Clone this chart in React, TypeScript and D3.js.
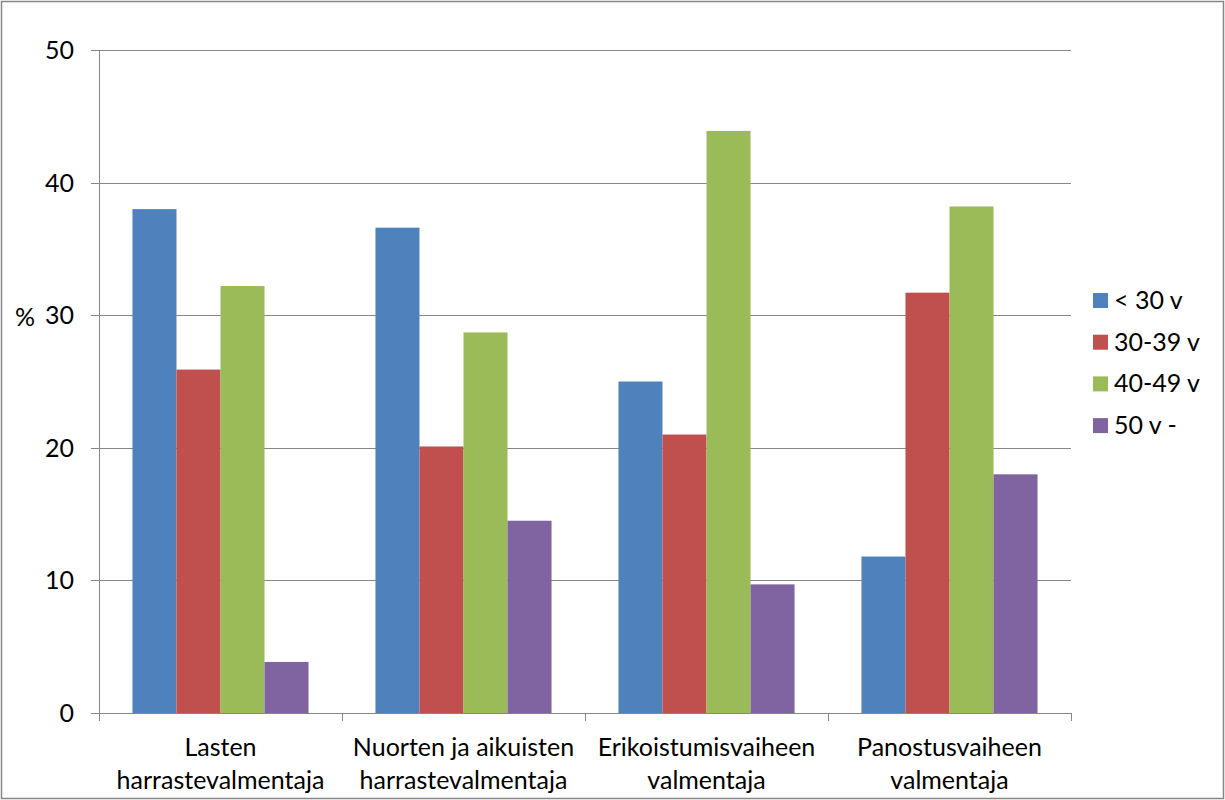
import React from "react";
import * as d3 from "d3";

const categories = [
  ["Lasten", "harrastevalmentaja"],
  ["Nuorten ja aikuisten", "harrastevalmentaja"],
  ["Erikoistumisvaiheen", "valmentaja"],
  ["Panostusvaiheen", "valmentaja"],
];
const seriesNames = ["< 30 v", "30-39 v", "40-49 v", "50 v -"];
const seriesColors = ["#4F81BD", "#C0504D", "#9BBB59", "#8064A2"];
const s1 = [38.0, 36.6, 25.0, 11.8];
const s2 = [25.9, 20.1, 21.0, 31.7];
const s3 = [32.2, 28.7, 43.9, 38.2];
const s4 = [3.85, 14.5, 9.7, 18.0];
const yTicks = [0, 10, 20, 30, 40, 50];

const W = 1225, H = 800;
const left = 99, right = 1071, top = 50, bottom = 713;
const font = "Lato, 'Open Sans', sans-serif";
const fs = 25;

export default function App() {
  const series = [s1, s2, s3, s4];
  const y = d3.scaleLinear().domain([0, 50]).range([bottom, top]);
  const x0 = d3.scaleBand<number>().domain(d3.range(categories.length)).range([left, right]).paddingInner(0).paddingOuter(0);
  const x1 = d3.scaleBand<number>().domain(d3.range(series.length)).range([0, x0.bandwidth()]).paddingOuter(0.76).paddingInner(0);
  return (
    <svg width={W} height={H} style={{ position: "absolute", left: 0, top: 0 }}>
      <rect x={0} y={0} width={W} height={H} fill="#fff" />
      <rect x={1.5} y={1.5} width={W - 3} height={H - 3} fill="none" stroke="#868686" strokeWidth={1.5} />
      {yTicks.map((t) => (
        <g key={t}>
          <line x1={left - 8} x2={right} y1={Math.round(y(t)) + 0.5} y2={Math.round(y(t)) + 0.5} stroke="#868686" />
          <text x={left - 25} y={y(t) + 9} textAnchor="end" fontFamily={font} fontSize={fs} fill="#000">{t}</text>
        </g>
      ))}
      <line x1={left + 0.5} x2={left + 0.5} y1={top} y2={bottom} stroke="#868686" />
      {categories.map((c, i) => (
        <g key={i}>
          {series.map((s, j) => (
            <rect key={j} x={x0(i)! + x1(j)!} y={y(s[i])} width={x1.bandwidth()} height={bottom - y(s[i])} fill={seriesColors[j]} />
          ))}
          <text textAnchor="middle" fontFamily={font} fontSize={fs} fill="#000">
            <tspan x={x0(i)! + x0.bandwidth() / 2} y={756}>{c[0]}</tspan>
            <tspan x={x0(i)! + x0.bandwidth() / 2} y={789}>{c[1]}</tspan>
          </text>
        </g>
      ))}
      {d3.range(categories.length + 1).map((i) => {
        const xx = Math.round(left + i * x0.bandwidth()) + 0.5;
        return <line key={i} x1={xx} x2={xx} y1={bottom} y2={bottom + 8} stroke="#868686" />;
      })}
      <text x={15} y={326} fontFamily={font} fontSize={fs} fill="#000">%</text>
      {seriesNames.map((n, j) => (
        <g key={n}>
          <rect x={1093} y={293 + j * 41.7} width={15} height={15} fill={seriesColors[j]} />
          <text x={1114} y={309 + j * 41.7} fontFamily={font} fontSize={fs} fill="#000">{n}</text>
        </g>
      ))}
    </svg>
  );
}
